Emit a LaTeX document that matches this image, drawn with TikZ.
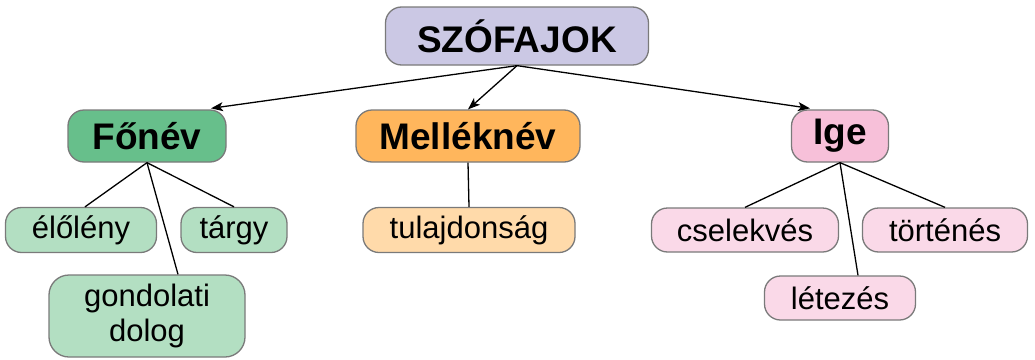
\documentclass[tikz,border=0pt]{standalone}
\usepackage{fontspec}
\setmainfont{Liberation Sans}
\usetikzlibrary{arrows.meta,calc}
\definecolor{rootfill}{HTML}{CBC8E4}
\definecolor{nounfill}{HTML}{67BF8B}
\definecolor{nounlight}{HTML}{B3DFC2}
\definecolor{adjfill}{HTML}{FFB65C}
\definecolor{adjlight}{HTML}{FFDAAA}
\definecolor{verbfill}{HTML}{F7C0D9}
\definecolor{verblight}{HTML}{FAD9E8}
\definecolor{edgegray}{HTML}{7A7A7A}
\tikzset{
  box/.style={draw=edgegray, line width=1.3pt, rounded corners=16pt, inner sep=0pt, align=center},
  headbox/.style={box, font=\fontsize{37}{41}\selectfont\bfseries},
  leafbox/.style={box, font=\fontsize{31}{35}\selectfont},
  arr/.style={line width=1.3pt, -{Stealth[length=12pt,width=9pt,inset=3pt]}},
  link/.style={line width=1.3pt}
}
\begin{document}
\begin{tikzpicture}[x=1pt,y=-1pt]
\useasboundingbox (0,0) rectangle (1035,359);
% heads
\node[headbox, fill=rootfill, minimum width=263pt, minimum height=58pt] (root) at (517,36) {SZÓFAJOK};
\node[headbox, fill=nounfill, minimum width=158pt, minimum height=52pt] (fonev) at (147,136) {Főnév};
\node[headbox, fill=adjfill, minimum width=224pt, minimum height=52pt] (mell) at (468,136) {Melléknév};
\node[headbox, fill=verbfill, minimum width=97pt, minimum height=52pt] (ige) at (840,136) {Ige};
% leaves
\node[leafbox, fill=nounlight, minimum width=151pt, minimum height=45pt] (elo) at (81,230) {élőlény};
\node[leafbox, fill=nounlight, minimum width=106pt, minimum height=45pt] (targy) at (234,230) {tárgy};
\node[leafbox, fill=nounlight, minimum width=196pt, minimum height=82pt, rounded corners=20pt] (gond) at (147,316) {gondolati\\dolog};
\node[leafbox, fill=adjlight, minimum width=212pt, minimum height=45pt] (tulaj) at (469,230) {tulajdonság};
\node[leafbox, fill=verblight, minimum width=187pt, minimum height=44pt] (csel) at (745,230) {cselekvés};
\node[leafbox, fill=verblight, minimum width=165pt, minimum height=44pt] (tort) at (945,230) {történés};
\node[leafbox, fill=verblight, minimum width=151pt, minimum height=44pt] (letez) at (840,298) {létezés};
% arrows
\draw[arr] (root.south) -- ($(fonev.north)+(64,-1)$);
\draw[arr] (root.south) -- (mell.north);
\draw[arr] (root.south) -- ($(ige.north)+(-30,-1)$);
% links
\draw[link] (fonev.south) -- ($(elo.north)+(4,0)$);
\draw[link] (fonev.south) -- (targy.north);
\draw[link] (fonev.south) -- ($(gond.north)+(31,0)$);
\draw[link] (mell.south) -- (tulaj.north);
\draw[link] (ige.south) -- (csel.north);
\draw[link] (ige.south) -- (tort.north);
\draw[link] (ige.south) -- ($(letez.north)+(18,0)$);
\end{tikzpicture}
\end{document}
